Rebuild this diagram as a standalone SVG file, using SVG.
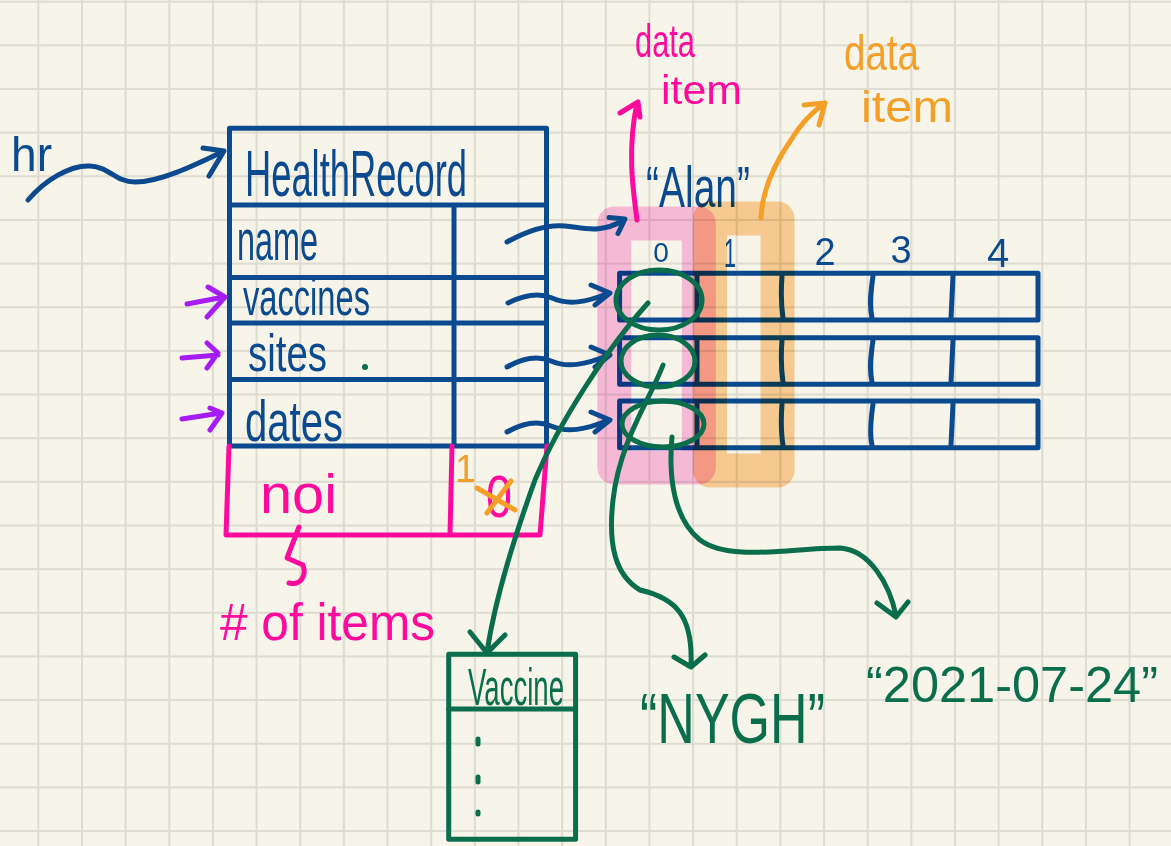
<svg xmlns="http://www.w3.org/2000/svg" width="1171" height="846" viewBox="0 0 1171 846">
<style>
.s{fill:none;stroke-width:5;stroke-linecap:round;stroke-linejoin:round}
.bl{stroke:#0b4a8e}
.gr{stroke:#0a6d4c}
.pk{stroke:#fe0b9e}
.or{stroke:#f4a028}
.pu{stroke:#a61cf5}
.t{font-family:"Liberation Sans",Arial,sans-serif}
.tb{fill:#0b4a8e}
.tg{fill:#0a6d4c}
.tp{fill:#fe0b9e}
.to{fill:#f4a028}
.hl{fill:none;stroke-width:34;stroke-linejoin:round;mix-blend-mode:multiply}
</style>
<defs>
<pattern id="grid" patternUnits="userSpaceOnUse" x="37.3" y="0.7" width="43.65" height="43.65">
<path d="M1,0 V43.65 M0,1 H43.65" stroke="#dedcd0" stroke-width="2.2" fill="none"/>
</pattern>
</defs>
<rect width="1171" height="846" fill="#f7f5ea"/>
<rect width="1171" height="846" fill="url(#grid)"/>

<g id="hr-label">
<text class="t tb" x="11" y="171" font-size="48" textLength="41" lengthAdjust="spacingAndGlyphs">hr</text>
</g>

<g id="health-record">
<path class="s bl" d="M229.5,128.3 H546.5 V446 M229.5,128.3 V446 M229.5,205 H546.5 M454,205 V446 M229.5,277.5 H546.5 M229.5,323 H546.5 M229.5,379.5 H546.5 M229.5,446 H546.5"/>
<text class="t tb" x="245" y="196" font-size="64" textLength="222" lengthAdjust="spacingAndGlyphs">HealthRecord</text>
<text class="t tb" x="237" y="260" font-size="58" textLength="81" lengthAdjust="spacingAndGlyphs">name</text>
<text class="t tb" x="243" y="315" font-size="52" textLength="127" lengthAdjust="spacingAndGlyphs">vaccines</text>
<text class="t tb" x="248" y="371" font-size="52" textLength="79" lengthAdjust="spacingAndGlyphs">sites</text>
<text class="t tb" x="245" y="441" font-size="58" textLength="98" lengthAdjust="spacingAndGlyphs">dates</text>
<circle cx="365" cy="367" r="3" fill="#0a6d4c"/>
<path class="s pk" d="M229,446 L226,535 H540 L547,446 M452,446 L450,535"/>
<text class="t tp" x="260" y="513" font-size="56" textLength="77" lengthAdjust="spacingAndGlyphs">noi</text>
<text class="t tp" x="486" y="517" font-size="60" textLength="26" lengthAdjust="spacingAndGlyphs">0</text>
<text class="t to" x="455" y="482" font-size="38" textLength="21" lengthAdjust="spacingAndGlyphs">1</text>
<path class="s or" d="M477,488 L515,510 M487,513 L511,481"/>
</g>

<g id="items-note">
<path class="s pk" d="M299,527 L287,558 L303,565 C307,576 300,586 289,583"/>
<text class="t tp" x="220" y="640" font-size="52" textLength="215" lengthAdjust="spacingAndGlyphs"># of items</text>
</g>

<g id="array">
<rect class="s bl" x="619.6" y="273.3" width="418.4" height="46.7"/>
<rect class="s bl" x="619.6" y="337.7" width="418.4" height="46.6"/>
<rect class="s bl" x="619.6" y="401" width="418.4" height="46.7"/>
<path class="s bl" d="M697,276 V318 M782,276 C781,290 781,305 783,318 M873,276 C871,290 869,305 872,318 M953,276 L951,318"/>
<path class="s bl" d="M697,340 V382 M782,340 C781,354 781,369 783,382 M873,340 C871,354 869,369 872,382 M953,340 L951,382"/>
<path class="s bl" d="M697,404 V445 M782,404 C781,418 781,433 783,445 M873,404 C871,418 869,433 872,445 M953,404 L951,445"/>
<text class="t tb" x="661" y="262" font-size="28" text-anchor="middle">0</text>
<text class="t tb" x="730" y="267" font-size="40" text-anchor="middle" textLength="12" lengthAdjust="spacingAndGlyphs">1</text>
<text class="t tb" x="825" y="265" font-size="38" text-anchor="middle">2</text>
<text class="t tb" x="901" y="263" font-size="38" text-anchor="middle">3</text>
<text class="t tb" x="998" y="267" font-size="40" text-anchor="middle">4</text>
<text class="t tb" x="646" y="207" font-size="58" textLength="104" lengthAdjust="spacingAndGlyphs">“Alan”</text>
</g>

<g id="highlights">
<rect class="hl" x="614.3" y="223.4" width="84.5" height="244.1" stroke="#fdc1e8"/>
<rect class="hl" x="710" y="218.5" width="67.5" height="252" stroke="#fdd19c"/>
</g>

<g id="data-item-pink">
<text class="t tp" x="635" y="57" font-size="46" textLength="60" lengthAdjust="spacingAndGlyphs">data</text>
<text class="t tp" x="661" y="104" font-size="40" textLength="81" lengthAdjust="spacingAndGlyphs">item</text>
</g>

<g id="data-item-orange">
<text class="t to" x="844" y="70" font-size="50" textLength="75" lengthAdjust="spacingAndGlyphs">data</text>
<text class="t to" x="861" y="122" font-size="44" textLength="92" lengthAdjust="spacingAndGlyphs">item</text>
</g>

<g id="vaccine">
<rect class="s gr" x="448.7" y="654.3" width="126.9" height="185"/>
<path class="s gr" d="M448.7,709 H575.6"/>
<text class="t tg" x="468" y="705" font-size="52" textLength="96" lengthAdjust="spacingAndGlyphs">Vaccine</text>
<path class="s gr" d="M478,739 V744 M478,777 V782 M478,812 V814"/>
</g>

<g id="nygh">
<text class="t tg" x="640" y="743" font-size="70" textLength="185" lengthAdjust="spacingAndGlyphs">“NYGH”</text>
</g>

<g id="date">
<text class="t tg" x="866" y="702" font-size="50" textLength="292" lengthAdjust="spacingAndGlyphs">“2021-07-24”</text>
</g>

<g id="connectors">
<path class="s bl" d="M28,200 C45,180 70,165 90,166 C110,167 115,182 135,182 C160,182 195,165 222,152 M203,148 L224,151 L209,176"/>
<path class="s bl" d="M507,242 C525,232 545,224 565,226 C585,228 600,234 624,220 M609,217.6 L625,219 L618,233.5"/>
<path class="s bl" d="M508,303 C522,296 538,292 552,298 C568,305 585,303 609,293 M591,285 L610,293 L595,305"/>
<path class="s bl" d="M507,367 C521,359 537,355 551,361 C567,368 585,365 609,355 M591,347 L610,355 L595,367"/>
<path class="s bl" d="M507,432 C521,424 537,420 551,426 C567,433 585,430 609,420 M591,412 L610,420 L595,432"/>
<path class="s pu" d="M187,304 L224,297 M208,287 L225,297 L207,317"/>
<path class="s pu" d="M182,358 L218,355 M207,343 L218,353 L207,368"/>
<path class="s pu" d="M182,419 L221,413 M210,408 L222,413 L210,430"/>
<path class="s pk" d="M637,220 C633,190 627,150 637,103 M620,113 L638,102 L640,117"/>
<path class="s or" d="M761,218 C762,195 770,170 791,140 C800,125 812,112 825,103 M804,105 L825,103 L819,125"/>
<ellipse class="s gr" cx="659" cy="300" rx="43" ry="30"/>
<ellipse class="s gr" cx="658" cy="361" rx="37" ry="26"/>
<ellipse class="s gr" cx="663" cy="424" rx="41" ry="23"/>
<path class="s gr" d="M648,303 C610,345 560,420 535,480 C515,535 495,600 487,652 M470,632 L487,653 L505,635"/>
<path class="s gr" d="M663,365 C650,400 620,440 613,500 C608,545 615,575 640,590 C675,598 693,615 691,665 M674,657 L691,667 L705,655"/>
<path class="s gr" d="M672,437 C668,480 675,520 700,540 C730,562 790,548 840,548 C870,550 890,585 896,616 M877,603 L896,617 L908,602"/>
</g>
</svg>
